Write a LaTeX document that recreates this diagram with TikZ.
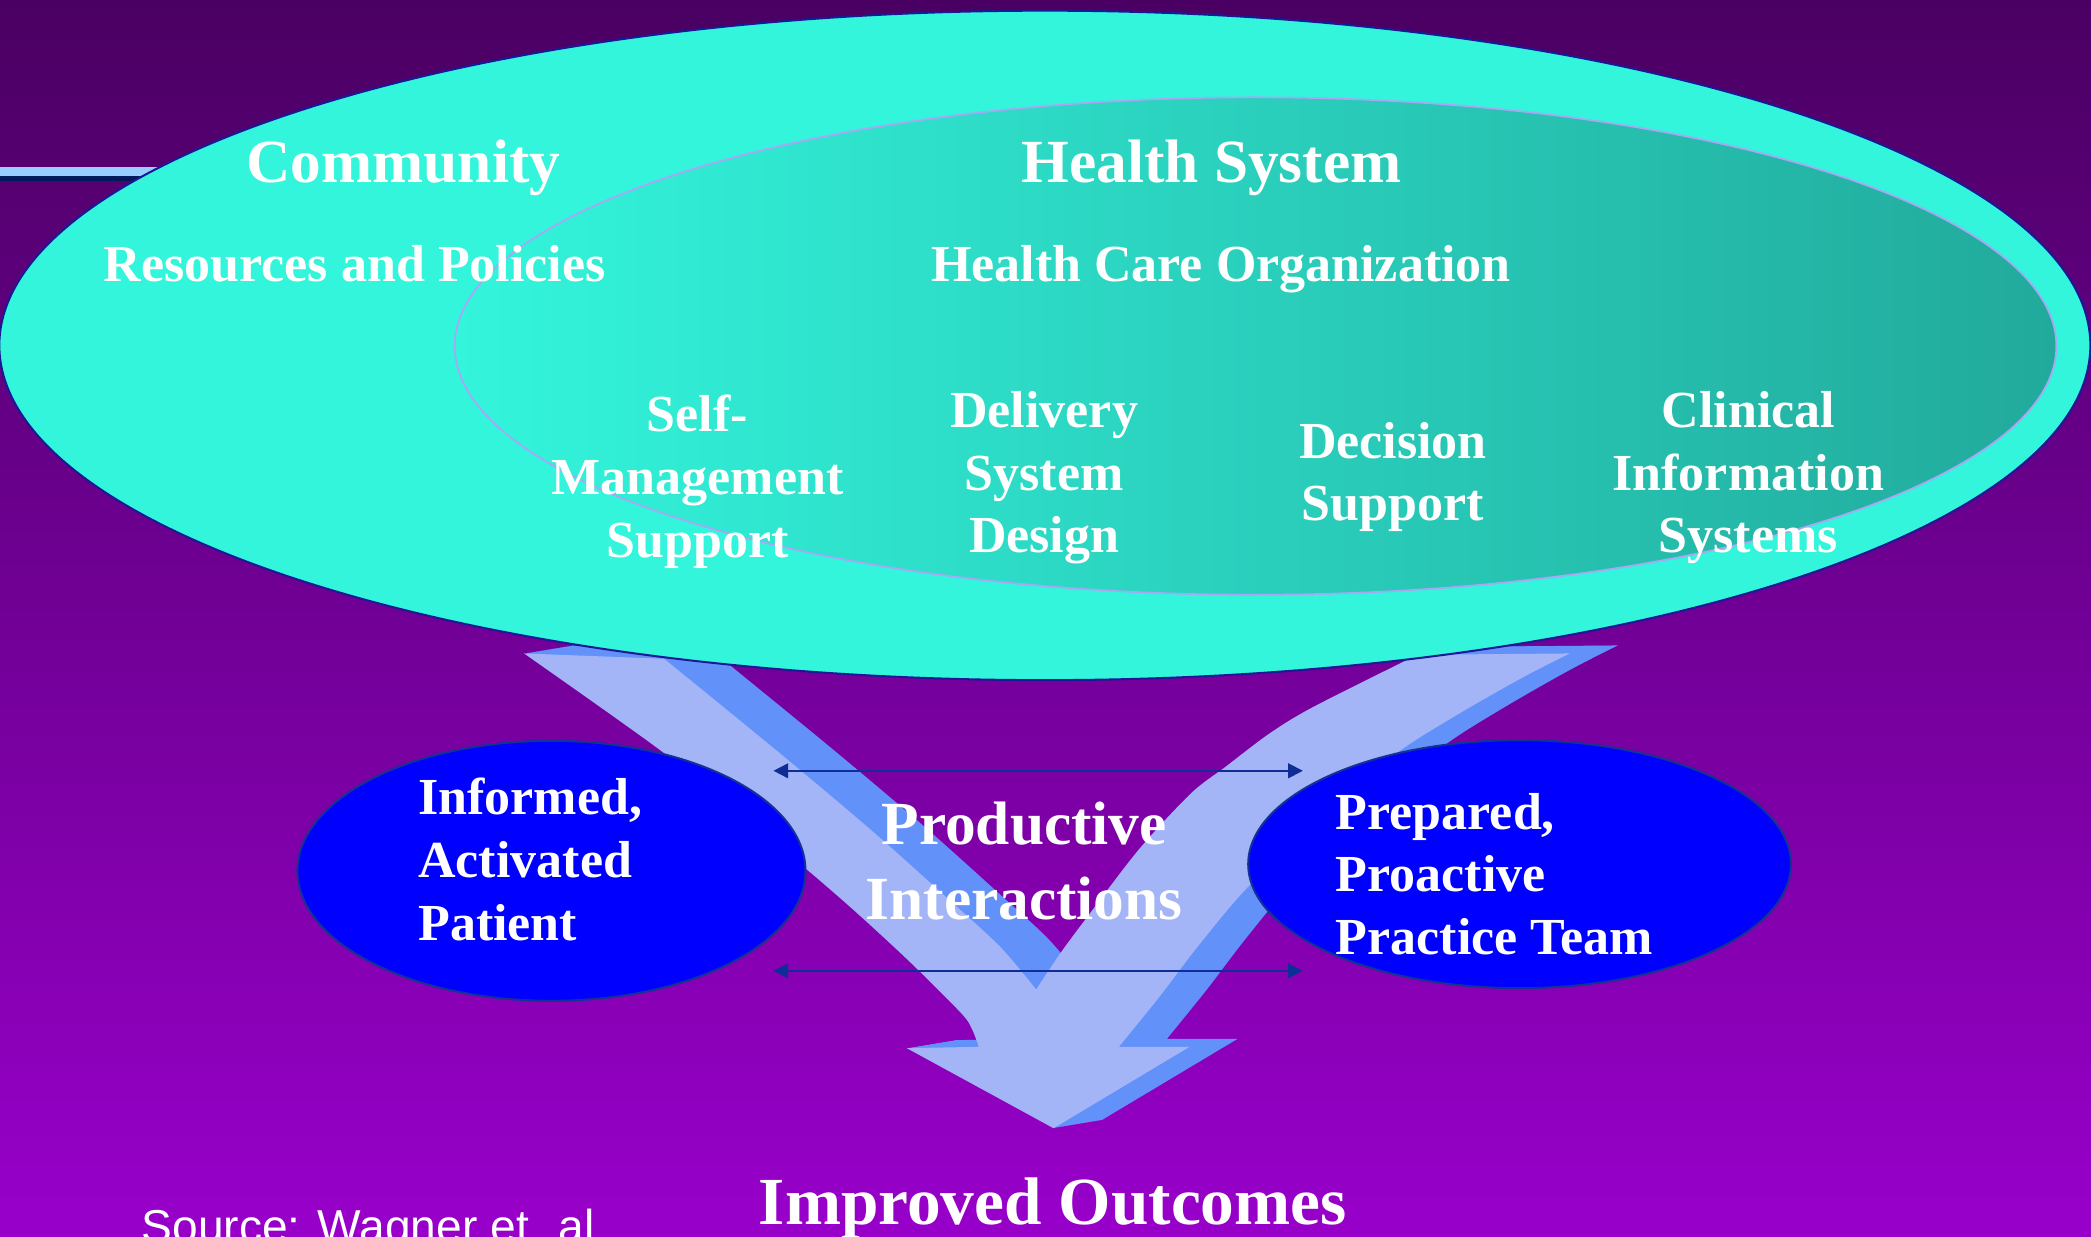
\documentclass[tikz,border=0pt]{standalone}
\usepackage{fontspec}
\setmainfont{Liberation Serif}
\newfontfamily\srcfont{Liberation Sans}
\usetikzlibrary{arrows.meta}
\definecolor{bgtop}{RGB}{74,0,98}
\definecolor{bgmid}{RGB}{122,0,166}
\definecolor{bgbot}{RGB}{152,0,202}
\definecolor{turq}{RGB}{51,245,220}
\definecolor{innerdark}{RGB}{33,170,156}
\definecolor{ellborder}{RGB}{25,25,150}
\definecolor{lavender}{RGB}{170,165,245}
\definecolor{arrowlight}{RGB}{163,181,247}
\definecolor{arrowblue}{RGB}{99,145,250}
\definecolor{blueell}{RGB}{0,0,255}
\definecolor{blueborder}{RGB}{20,50,150}
\definecolor{linkcol}{RGB}{15,45,150}
\definecolor{barlight}{RGB}{153,204,255}
\definecolor{bardark}{RGB}{0,25,90}
\def\chkarrowpath{(393,490) -- (498,494)
  -- plot[smooth] coordinates {(498,494) (585,565) (655,624) (712,675) (750,710) (777,742)}
  -- plot[smooth] coordinates {(777,742) (795,715) (815,688) (854,637) (893,595) (919,575) (952,550) (985,530) (1063,491)}
  -- (1177,490)
  -- plot[smooth] coordinates {(1177,490) (1140,509) (1091,537) (1047,565) (990,612) (934,667) (898,710) (869,748) (839,785)}
  -- (892,785) -- (790,846) -- (680,786) -- (734,785)
  -- plot[smooth] coordinates {(734,785) (729,772) (721,760) (683,722) (643,685) (605,652) (549,606) (493,561) (393,490)}
  -- cycle}
\begin{document}
\begin{tikzpicture}[x=1pt,y=-1pt,
  lbl/.style={text=white, inner sep=0pt, font=\bfseries\fontsize{39}{47}\selectfont},
  big/.style={text=white, inner sep=0pt, font=\bfseries\fontsize{46}{56}\selectfont},
  link/.style={draw=linkcol, line width=1.4pt, {Triangle[length=11pt,width=11pt]}-{Triangle[length=11pt,width=11pt]}}]
\useasboundingbox (0,0) rectangle (1568,926.85);
% background
\shade[top color=bgtop, middle color=bgmid, bottom color=bgbot] (0,0) rectangle (1568,926.85);
% top-left bar
\fill[bardark] (0,132) rectangle (160,135.5);
\fill[barlight] (0,125) rectangle (160,132);
% check-mark arrow with extrusion
\foreach \k in {1,...,24} {\fill[arrowblue, shift={(1.5*\k,-0.25*\k)}] \chkarrowpath;}
\fill[arrowlight] \chkarrowpath;
% big community ellipse
\draw[fill=turq, draw=ellborder, line width=1.5pt] (783.5,259) ellipse [x radius=784pt, y radius=251pt];
% health system ellipse
\shade[left color=turq, right color=innerdark] (941.5,259.5) ellipse [x radius=600.5pt, y radius=186.5pt];
\draw[lavender, line width=1.3pt] (941.5,259.5) ellipse [x radius=600.5pt, y radius=186.5pt];
% titles
\node[big, anchor=base] (comm) at (302.5,137) {Community};
\node[big, anchor=base] (hs) at (908.5,137) {Health System};
\node[lbl, anchor=base] (rp) at (266,211) {Resources and Policies};
\node[lbl, anchor=base] (hco) at (915.5,211) {Health Care Organization};
\node[lbl, anchor=north, align=center] (sms) at (523,296.2) {Self-\\Management\\Support};
\node[lbl, anchor=north, align=center] (dsd) at (783,293.2) {Delivery\\System\\Design};
\node[lbl, anchor=north, align=center] (ds) at (1044.5,316.2) {Decision\\Support};
\node[lbl, anchor=north, align=center] (cis) at (1311,293.2) {Clinical\\Information\\Systems};
% patient and team ellipses
\draw[fill=blueell, draw=blueborder, line width=1.5pt] (413.5,653) ellipse [x radius=190.5pt, y radius=97.5pt];
\draw[fill=blueell, draw=blueborder, line width=1.5pt] (1139.5,648) ellipse [x radius=203.5pt, y radius=93pt];
\node[lbl, anchor=north west, align=left] (pat) at (313.5,583.4) {Informed,\\Activated\\Patient};
\node[lbl, anchor=north west, align=left] (team) at (1001.5,594.6) {Prepared,\\Proactive\\Practice Team};
% productive interactions
\coordinate (a1l) at (580,578);
\coordinate (a1r) at (977,578);
\coordinate (a2l) at (580,728);
\coordinate (a2r) at (977,728);
\draw[link] (a1l) -- (a1r);
\draw[link] (a2l) -- (a2r);
\node[big, anchor=north, align=center] (prod) at (768,601.4) {Productive\\Interactions};
% outcomes and source
\node[text=white, inner sep=0pt, anchor=base, font=\bfseries\fontsize{50.5}{60}\selectfont] (outc) at (789.5,918) {Improved Outcomes};
\node[text=white, inner sep=0pt, anchor=base west, font=\srcfont\fontsize{34.6}{40}\selectfont] (src) at (106,932) {Source: Wagner et. al};
\end{tikzpicture}
\end{document}
